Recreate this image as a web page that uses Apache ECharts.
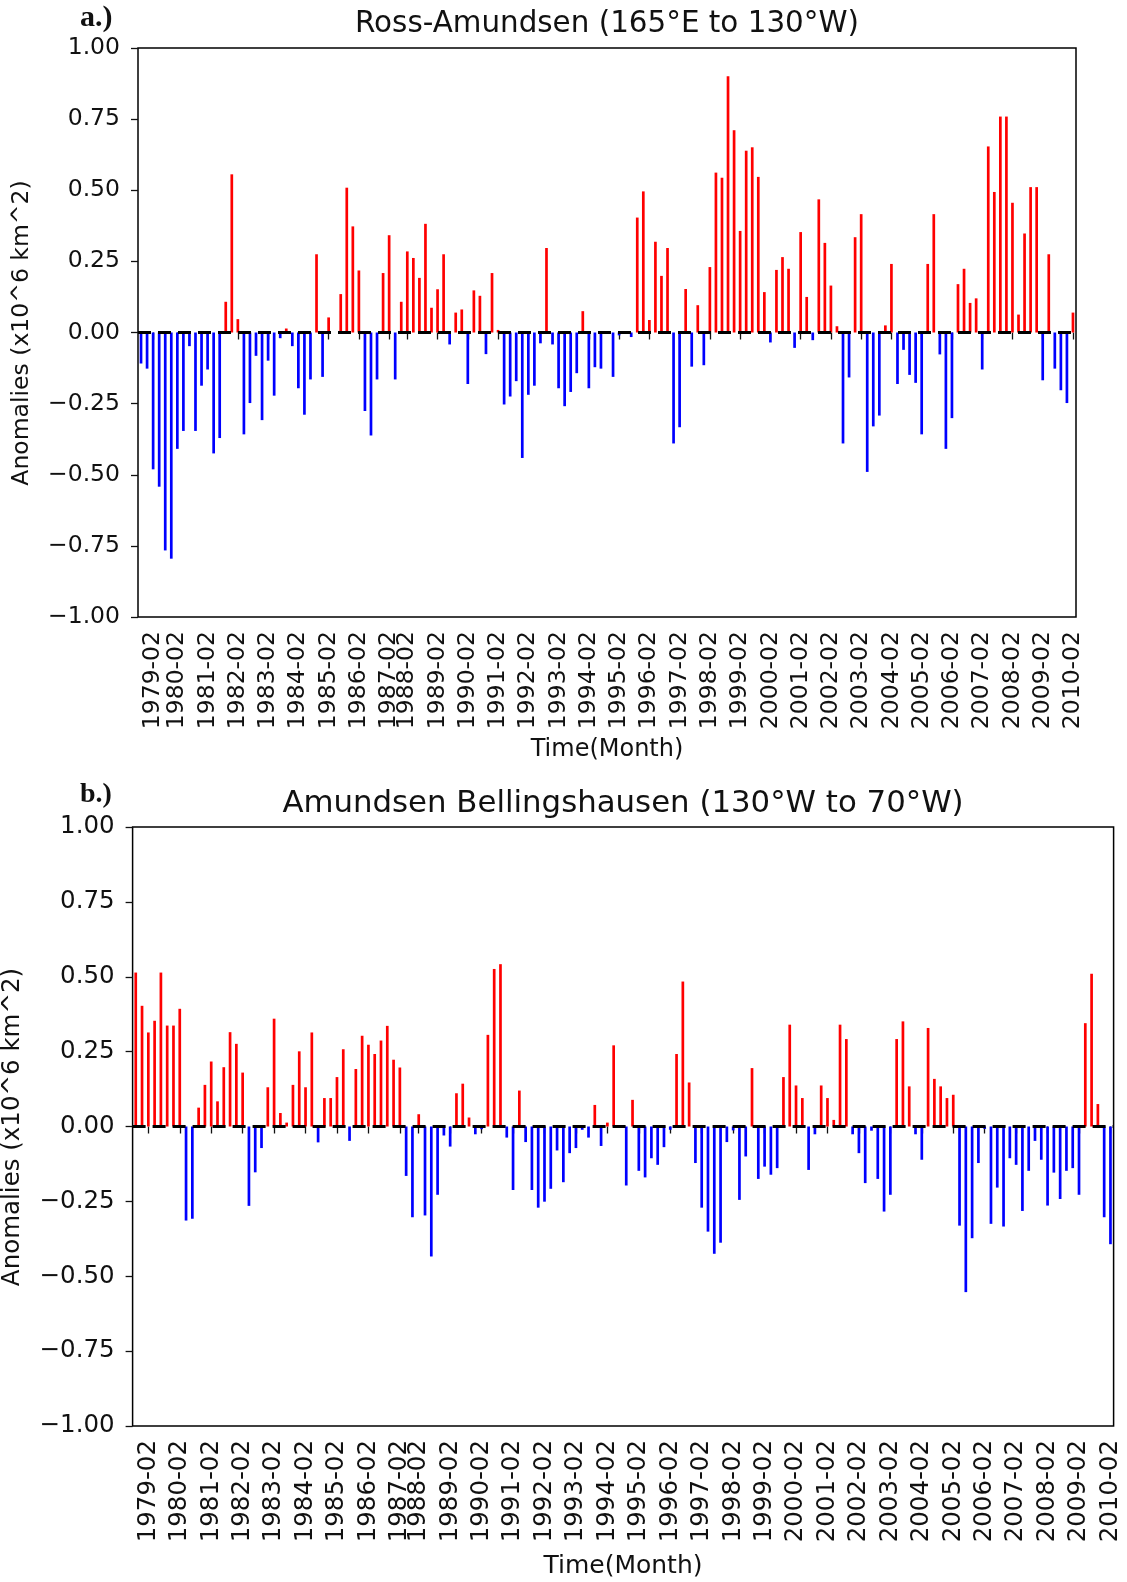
<!DOCTYPE html>
<html>
<head>
<meta charset="utf-8">
<title>Sea ice extent anomalies</title>
<script src="https://cdn.jsdelivr.net/npm/echarts@6/dist/echarts.min.js"></script>
<style>
  html, body { margin: 0; padding: 0; background: #fff; }
  #chart { width: 1127px; height: 1582px; }
</style>
</head>
<body>
<div id="chart"></div>
<script>
'use strict';

// 面板标题
const titleA = 'Ross-Amundsen (165\u00b0E to 130\u00b0W)';
const titleB = 'Amundsen Bellingshausen (130\u00b0W to 70\u00b0W)';

// x 轴刻度标签（每年二月）
const yearLabels = [
  '1979-02', '1980-02', '1981-02', '1982-02', '1983-02', '1984-02', '1985-02', '1986-02',
  '1987-02', '1988-02', '1989-02', '1990-02', '1991-02', '1992-02', '1993-02', '1994-02',
  '1995-02', '1996-02', '1997-02', '1998-02', '1999-02', '2000-02', '2001-02', '2002-02',
  '2003-02', '2004-02', '2005-02', '2006-02', '2007-02', '2008-02', '2009-02', '2010-02'
];

// 每个刻度标签对应的柱序号
const rossTickSlots = [2, 6, 11, 16, 21, 26, 31, 36, 41, 44, 49, 54, 59, 64, 69, 74,
  79, 84, 89, 94, 99, 104, 109, 114, 119, 124, 129, 134, 139, 144, 149, 154];
const amundTickSlots = [2, 7, 12, 17, 22, 27, 32, 37, 42, 45, 50, 55, 60, 65, 70, 75,
  80, 85, 90, 95, 100, 105, 110, 115, 120, 125, 130, 135, 140, 145, 150, 155];

// a.) Ross-Amundsen 距平 (x10^6 km^2)
const rossValues = [
  -0.109, -0.127, -0.481, -0.542, -0.766, -0.795, -0.409, -0.346, -0.048, -0.346,
  -0.187, -0.130, -0.425, -0.371, 0.108, 0.556, 0.047, -0.358, -0.248, -0.082,
  -0.308, -0.099, -0.222, -0.020, 0.014, -0.048, -0.196, -0.289, -0.165, 0.275,
  -0.156, 0.053, 0, 0.135, 0.509, 0.373, 0.218, -0.276, -0.362, -0.165,
  0.209, 0.342, -0.165, 0.108, 0.285, 0.262, 0.192, 0.382, 0.087, 0.152,
  0.275, -0.042, 0.070, 0.081, -0.181, 0.148, 0.129, -0.076, 0.209, 0.009,
  -0.253, -0.225, -0.171, -0.441, -0.219, -0.187, -0.038, 0.297, -0.042, -0.196,
  -0.259, -0.209, -0.143, 0.075, -0.196, -0.122, -0.127, 0, -0.156, -0.010,
  0, -0.016, 0.404, 0.496, 0.044, 0.319, 0.199, 0.297, -0.390, -0.333,
  0.153, -0.120, 0.096, -0.115, 0.230, 0.562, 0.544, 0.901, 0.711, 0.357,
  0.639, 0.651, 0.547, 0.142, -0.035, 0.220, 0.265, 0.224, -0.054, 0.353,
  0.125, -0.027, 0.468, 0.315, 0.165, 0.022, -0.390, -0.158, 0.335, 0.416,
  -0.490, -0.330, -0.292, 0.025, 0.241, -0.181, -0.061, -0.149, -0.177, -0.358,
  0.241, 0.416, -0.077, -0.409, -0.301, 0.170, 0.224, 0.104, 0.120, -0.130,
  0.654, 0.494, 0.759, 0.759, 0.456, 0.063, 0.348, 0.511, 0.511, -0.168,
  0.275, -0.127, -0.203, -0.248, 0.070
];

// b.) Amundsen Bellingshausen 距平 (x10^6 km^2)
const amundValues = [
  0.514, 0.403, 0.314, 0.353, 0.514, 0.337, 0.337, 0.393, -0.314, -0.308,
  0.063, 0.139, 0.217, 0.084, 0.198, 0.315, 0.276, 0.180, -0.265, -0.153,
  -0.072, 0.131, 0.360, 0.045, 0.013, 0.139, 0.251, 0.131, 0.314, -0.053,
  0.095, 0.095, 0.165, 0.258, -0.048, 0.192, 0.303, 0.273, 0.242, 0.287,
  0.336, 0.223, 0.197, -0.165, -0.303, 0.041, -0.297, -0.434, -0.228, -0.030,
  -0.067, 0.111, 0.143, 0.030, -0.026, -0.009, 0.306, 0.526, 0.542, -0.037,
  -0.212, 0.120, -0.052, -0.212, -0.271, -0.251, -0.208, -0.080, -0.186, -0.089,
  -0.072, -0.011, -0.037, 0.072, -0.065, 0.013, 0.271, 0, -0.197, 0.089,
  -0.148, -0.170, -0.106, -0.128, -0.069, -0.011, 0.242, 0.484, 0.147, -0.122,
  -0.271, -0.351, -0.425, -0.388, -0.052, -0.013, -0.245, -0.100, 0.195, -0.175,
  -0.134, -0.161, -0.139, 0.165, 0.340, 0.137, 0.095, -0.145, -0.026, 0.137,
  0.095, 0.022, 0.340, 0.292, -0.026, -0.089, -0.189, -0.014, -0.175, -0.284,
  -0.228, 0.292, 0.351, 0.134, -0.026, -0.111, 0.329, 0.159, 0.134, 0.095,
  0.106, -0.331, -0.553, -0.373, -0.122, -0.008, -0.325, -0.204, -0.334, -0.106,
  -0.128, -0.282, -0.148, -0.048, -0.111, -0.264, -0.154, -0.242, -0.148, -0.139,
  -0.228, 0.345, 0.510, 0.075, -0.303, -0.393
];

const FONT = '"DejaVu Sans", sans-serif';
const INK = '#111';

/**
 * 类目 x 轴：只在每年二月的位置显示刻度和标签
 */
function buildXAxis(gridIndex, count, tickSlots, fontSize) {
  const labelBySlot = {};
  tickSlots.forEach(function(slot, k) {
    labelBySlot[slot] = yearLabels[k];
  });
  const isTick = function(idx) {
    return Object.prototype.hasOwnProperty.call(labelBySlot, idx);
  };

  const cats = [];
  for (let i = 0; i < count; i++) {
    cats.push(String(i));
  }

  return {
    type: 'category',
    gridIndex: gridIndex,
    data: cats,
    boundaryGap: true,
    axisLine: { show: false },
    axisTick: {
      show: true,
      interval: isTick,
      alignWithLabel: true,
      length: 7,
      lineStyle: { color: INK, width: 1.3 }
    },
    axisLabel: {
      interval: isTick,
      formatter: function(value, idx) {
        return labelBySlot[idx] || '';
      },
      rotate: 90,
      margin: 14,
      fontFamily: FONT,
      fontSize: fontSize,
      color: INK
    },
    splitLine: { show: false }
  };
}

function buildYAxis(gridIndex, fontSize) {
  return {
    type: 'value',
    gridIndex: gridIndex,
    min: -1,
    max: 1,
    interval: 0.25,
    axisLine: { show: false },
    axisTick: { show: true, length: 7, lineStyle: { color: INK, width: 1.3 } },
    axisLabel: {
      formatter: function(v) {
        return v.toFixed(2).replace('-', '\u2212');
      },
      margin: 18,
      fontFamily: FONT,
      fontSize: fontSize,
      color: INK
    },
    splitLine: { show: false }
  };
}

function buildSeries(index, values) {
  return {
    type: 'bar',
    xAxisIndex: index,
    yAxisIndex: index,
    data: values,
    barWidth: 2.7,
    itemStyle: {
      color: function(p) {
        return p.value >= 0 ? '#ff0000' : '#0000ff';
      }
    },
    // 零线（黑色虚线）
    markLine: {
      silent: true,
      symbol: ['none', 'none'],
      label: { show: false },
      lineStyle: { color: '#000', type: [13, 7], width: 3 },
      data: [{ yAxis: 0 }]
    }
  };
}

function textItem(text, x, y, opts) {
  opts = opts || {};
  return {
    type: 'text',
    x: x,
    y: y,
    rotation: opts.rotation || 0,
    style: {
      text: text,
      fontFamily: opts.family || FONT,
      fontSize: opts.size || 23,
      fontWeight: opts.weight || 'normal',
      fill: INK,
      textAlign: opts.align || 'center',
      textVerticalAlign: 'middle',
      align: opts.align || 'center',
      verticalAlign: 'middle'
    }
  };
}

const chart = echarts.init(document.getElementById('chart'), null, { renderer: 'canvas' });

const option = {
  animation: false,
  backgroundColor: '#fff',
  grid: [
    { left: 138, top: 48, width: 938, height: 569, show: true, borderColor: '#000', borderWidth: 1.5, backgroundColor: 'transparent' },
    { left: 132.6, top: 827, width: 981, height: 599, show: true, borderColor: '#000', borderWidth: 1.5, backgroundColor: 'transparent' }
  ],
  xAxis: [
    buildXAxis(0, rossValues.length, rossTickSlots, 23.5),
    buildXAxis(1, amundValues.length, amundTickSlots, 24.5)
  ],
  yAxis: [buildYAxis(0, 23.5), buildYAxis(1, 24.5)],
  series: [buildSeries(0, rossValues), buildSeries(1, amundValues)],
  graphic: [
    textItem(titleA, 607, 24, { size: 29.4 }),
    textItem(titleB, 623, 804, { size: 30.8 }),
    textItem('a.)', 80, 18, { family: '"Liberation Serif", serif', weight: 'bold', size: 30, align: 'left' }),
    textItem('b.)', 80, 795, { family: '"Liberation Serif", serif', weight: 'bold', size: 28, align: 'left' }),
    textItem('Anomalies (x10^6 km^2)', 22, 333, { rotation: Math.PI / 2, size: 23.5 }),
    textItem('Anomalies (x10^6 km^2)', 13, 1127, { rotation: Math.PI / 2, size: 24.5 }),
    textItem('Time(Month)', 607, 750, { size: 24 }),
    textItem('Time(Month)', 623, 1566, { size: 25 })
  ]
};

chart.setOption(option);
</script>
</body>
</html>
